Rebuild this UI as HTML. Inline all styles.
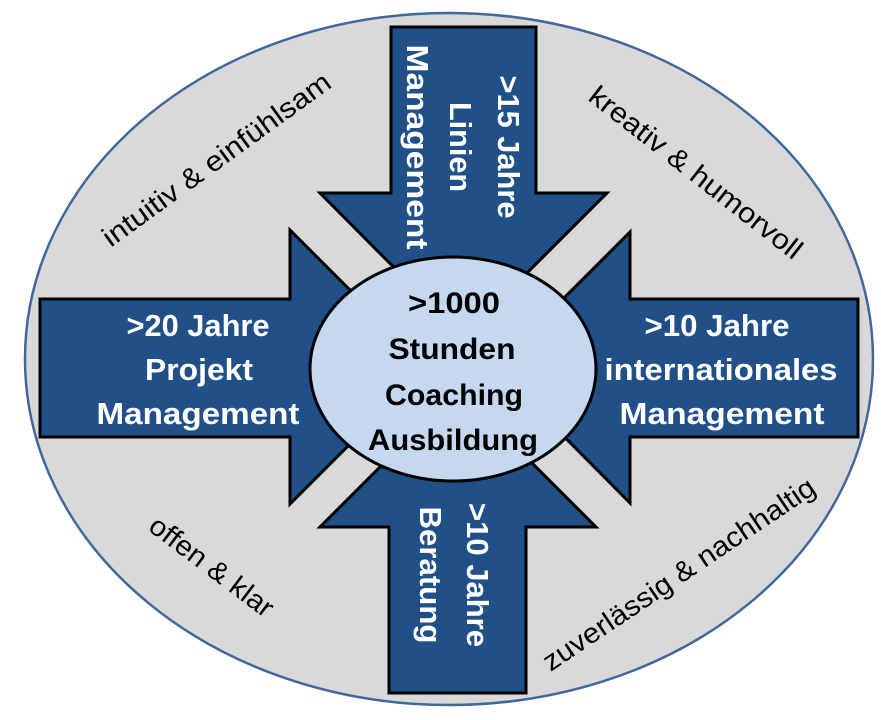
<!DOCTYPE html>
<html><head><meta charset="utf-8"><style>html,body{margin:0;padding:0;background:#fff}svg{display:block}</style></head>
<body>
<svg width="881" height="720" viewBox="0 0 881 720" xmlns="http://www.w3.org/2000/svg">
<ellipse cx="449" cy="359" rx="424" ry="346" fill="#d9d9d9" stroke="#41689a" stroke-width="2.5"/>
<g fill="#205087" stroke="#000" stroke-width="3" stroke-linejoin="miter">
<polygon points="391,27 536,27 536,193 607,193 463,337 320,193 391,193"/>
<polygon points="389,693 526,693 526,527 596,527 458,389 320,527 389,527"/>
<polygon points="40,299 290,299 290,230 427,367 290,504 290,437 40,437"/>
<polygon points="858,299 630,299 630,232 495,367 630,503 630,437 858,437"/>
</g>
<ellipse cx="453" cy="369" rx="143" ry="112" fill="#c5d8ef" stroke="#000" stroke-width="3"/>
<g font-family="Liberation Sans, sans-serif" font-weight="bold" font-size="30" text-anchor="middle" fill="#000" lengthAdjust="spacingAndGlyphs">
<text x="454" y="313" textLength="92" lengthAdjust="spacingAndGlyphs">&gt;1000</text>
<text x="452" y="359" textLength="127" lengthAdjust="spacingAndGlyphs">Stunden</text>
<text x="454" y="405" textLength="138" lengthAdjust="spacingAndGlyphs">Coaching</text>
<text x="453" y="450" textLength="170" lengthAdjust="spacingAndGlyphs">Ausbildung</text>
</g>
<g font-family="Liberation Sans, sans-serif" font-weight="bold" font-size="31" text-anchor="middle" fill="#fff">
<text x="198" y="336" textLength="143" lengthAdjust="spacingAndGlyphs">&gt;20 Jahre</text>
<text x="199" y="380" textLength="108" lengthAdjust="spacingAndGlyphs">Projekt</text>
<text x="198" y="424" textLength="203" lengthAdjust="spacingAndGlyphs">Management</text>
<text x="717" y="336" textLength="145" lengthAdjust="spacingAndGlyphs">&gt;10 Jahre</text>
<text x="721" y="380" textLength="233" lengthAdjust="spacingAndGlyphs">internationales</text>
<text x="722" y="424" textLength="205" lengthAdjust="spacingAndGlyphs">Management</text>
<g transform="translate(463,147) rotate(90)">
<text x="0" y="-35" textLength="143" lengthAdjust="spacingAndGlyphs">&gt;15 Jahre</text>
<text x="0" y="13" textLength="90" lengthAdjust="spacingAndGlyphs">Linien</text>
<text x="0" y="56" textLength="205" lengthAdjust="spacingAndGlyphs">Management</text>
</g>
<g transform="translate(459,575) rotate(90)">
<text x="0" y="-8" textLength="144" lengthAdjust="spacingAndGlyphs">&gt;10 Jahre</text>
<text x="0" y="39" textLength="137" lengthAdjust="spacingAndGlyphs">Beratung</text>
</g>
</g>
<g font-family="Liberation Sans, sans-serif" font-size="28" text-anchor="middle" fill="#000">
<text transform="translate(222,167) rotate(-36)" textLength="275" lengthAdjust="spacingAndGlyphs">intuitiv &amp; einfühlsam</text>
<text transform="translate(690,180) rotate(38)" textLength="262" lengthAdjust="spacingAndGlyphs">kreativ &amp; humorvoll</text>
<text transform="translate(206,574) rotate(37)" textLength="148" lengthAdjust="spacingAndGlyphs">offen &amp; klar</text>
<text transform="translate(684,582) rotate(-34)" textLength="322" lengthAdjust="spacingAndGlyphs">zuverlässig &amp; nachhaltig</text>
</g>
</svg>
</body></html>
